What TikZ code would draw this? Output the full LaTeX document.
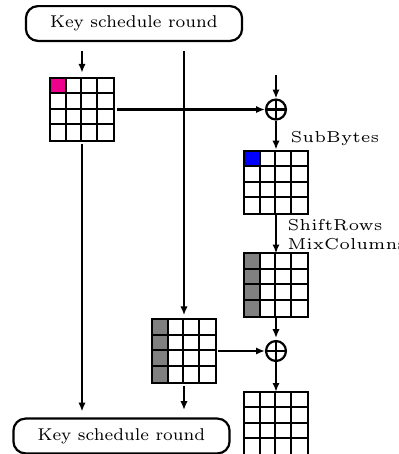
\documentclass[tikz,border=0pt]{standalone}
\usetikzlibrary{positioning, arrows.meta}

\font\boxfnt=cmr7 at 5.4pt
\font\labelfnt=cmr5 at 5pt

\tikzset{
  keybox/.style={draw, line width=0.7pt, rounded corners=3.8pt, minimum width=68.3pt, minimum height=11pt, inner sep=0pt, font=\boxfnt},
  xorop/.style={draw, line width=0.7pt, circle, minimum size=6.3pt, inner sep=0pt,
    path picture={\draw[line width=0.7pt] (path picture bounding box.north) -- (path picture bounding box.south)
      (path picture bounding box.west) -- (path picture bounding box.east);}},
  flow/.style={line width=0.7pt, -{Latex[length=2.8pt, width=2.3pt]}},
  oplabel/.style={font={\labelfnt\baselineskip=6pt\relax}, anchor=west, align=left, inner sep=0pt}
}

% 4x4 state: name, centre, fill code
\newcommand{\stategrid}[3]{%
  \node[minimum size=19.6pt, inner sep=0pt] (#1) at (#2) {};
  #3
  \draw[line width=0.7pt] (#1.north west) rectangle (#1.south east);
  \foreach \k in {1,2,3}{
    \draw[line width=0.7pt] ([xshift=\k*4.9pt]#1.north west) -- ([xshift=\k*4.9pt]#1.south west);
    \draw[line width=0.7pt] ([yshift=-\k*4.9pt]#1.north west) -- ([yshift=-\k*4.9pt]#1.north east);
  }
}

\begin{document}
\begin{tikzpicture}[x=0.316pt, y=-0.316pt]
\useasboundingbox (0, 0) rectangle (399, 454);

% key schedule
\node[keybox] (kstop) at (134, 23.5) {Key schedule round};
\node[keybox] (ksbot) at (121.5, 436) {Key schedule round};

% states
\stategrid{kin}{82, 109.5}{\fill[magenta] (kin.north west) rectangle ++(4.9pt, -4.9pt);}
\stategrid{sub}{276, 182.5}{\fill[blue] (sub.north west) rectangle ++(4.9pt, -4.9pt);}
\stategrid{mix}{276, 285}{\fill[gray] (mix.north west) rectangle ([xshift=4.9pt]mix.south west);}
\stategrid{kout}{184, 351}{\fill[gray] (kout.north west) rectangle ([xshift=4.9pt]kout.south west);}
\stategrid{sout}{276, 423.5}{}

% xors
\node[xorop] (xa) at (276, 109.5) {};
\node[xorop] (xb) at (276, 351) {};
\coordinate (sin) at (276, 75);
\coordinate (kend) at (184, 410);

% labels
\node[oplabel] (lsub) at (290, 139) {SubBytes};
\node[oplabel] (lmix) at (287, 234.5) {ShiftRows\\MixColumns};

% connectors
\draw[flow, shorten <=2.8pt, shorten >=1.6pt] (kin |- kstop.south) -- (kin.north);
\draw[flow, shorten <=2.8pt, shorten >=1.3pt] (kout |- kstop.south) -- (kout.north);
\draw[flow, shorten <=1pt] (kin.east) -- (xa.west);
\draw[flow] (sin) -- (xa.north);
\draw[flow, shorten >=0.4pt] (xa.south) -- (sub.north);
\draw[flow] (sub.south) -- (mix.north);
\draw[flow, shorten >=0.6pt] (mix.south) -- (xb.north);
\draw[flow, shorten <=0.6pt] (kout.east) -- (xb.west);
\draw[flow] (xb.south) -- (sout.north);
\draw[flow, shorten <=1pt] (kout.south) -- (kend);
\draw[flow, shorten <=1pt, shorten >=1.9pt] (kin.south) -- (kin |- ksbot.north);
\end{tikzpicture}
\end{document}
